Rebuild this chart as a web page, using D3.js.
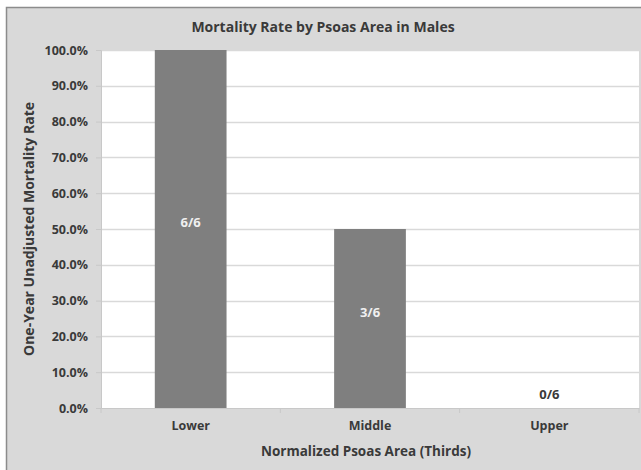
<!DOCTYPE html>
<html>
<head>
<meta charset="utf-8">
<script src="https://cdn.jsdelivr.net/npm/d3@7"></script>
<style>
  body { margin: 0; background: #fff; }
  text { font-family: "Open Sans", "Liberation Sans", sans-serif; font-weight: bold; fill: #3a3a3a; }
</style>
</head>
<body>
<main></main>
<script>
const WIDTH = 641;
const HEIGHT = 470;

const categories = ["Lower", "Middle", "Upper"];
const rates = [1.0, 0.5, 0.0];
const barLabels = ["6/6", "3/6", "0/6"];
const yTicks = [0, 0.1, 0.2, 0.3, 0.4, 0.5, 0.6, 0.7, 0.8, 0.9, 1.0];

const titleText = "Mortality Rate by Psoas Area in Males";
const xTitle = "Normalized Psoas Area (Thirds)";
const yTitle = "One-Year Unadjusted Mortality Rate";

function drawChart () {
    var svg = d3.select("main").append("svg")
                .attr("width", WIDTH)
                .attr("height", HEIGHT);

    // chart frame (gray background, runs off right and bottom)
    svg.append("rect")
       .attr("x", 6.5).attr("y", 7.5)
       .attr("width", WIDTH).attr("height", HEIGHT)
       .style("fill", "#d9d9d9")
       .style("stroke", "#8c8c8c")
       .style("stroke-width", 1.5);

    var left = 101, right = 639, top = 50, bottom = 408;

    var x = d3.scaleBand().domain(categories).range([left, right]).paddingInner(0.6).paddingOuter(0.3);
    var y = d3.scaleLinear().domain([0, 1]).range([bottom, top]);

    // plot area
    svg.append("rect")
       .attr("x", left).attr("y", top)
       .attr("width", right - left).attr("height", bottom - top)
       .style("fill", "white");

    // gridlines
    svg.append("g")
       .selectAll("line")
       .data(yTicks.slice(1))
       .join("line")
       .attr("x1", left).attr("x2", right)
       .attr("y1", d => Math.round(y(d)) + 0.5)
       .attr("y2", d => Math.round(y(d)) + 0.5)
       .style("stroke", "#d9d9d9")
       .style("stroke-width", 1.5);

    // y axis
    var yAxis = svg.append("g")
                   .attr("transform", "translate(" + left + ",0)")
                   .call(d3.axisLeft(y).tickValues(yTicks).tickFormat(d3.format(".1%")).tickSize(5).tickPadding(8));
    yAxis.select(".domain").style("stroke", "#c8c8c8");
    yAxis.selectAll(".tick line").style("stroke", "#c8c8c8");
    yAxis.selectAll("text").style("font-size", "12.5px").style("fill", "#3a3a3a");

    // bars
    svg.append("g")
       .selectAll("rect")
       .data(rates)
       .join("rect")
       .attr("x", (d, i) => x(categories[i]))
       .attr("width", x.bandwidth())
       .attr("y", d => y(d))
       .attr("height", d => y(0) - y(d))
       .style("fill", "#7f7f7f");

    // x axis
    var xAxis = svg.append("g")
                   .attr("transform", "translate(0," + bottom + ")")
                   .call(d3.axisBottom(x).tickSize(0).tickPadding(13));
    xAxis.select(".domain").style("stroke", "#c8c8c8");
    xAxis.selectAll("text").style("font-size", "12.5px").style("fill", "#3a3a3a");

    // category separator ticks
    svg.append("g")
       .selectAll("line")
       .data(d3.range(categories.length + 1))
       .join("line")
       .attr("x1", i => left + i * (right - left) / categories.length)
       .attr("x2", i => left + i * (right - left) / categories.length)
       .attr("y1", bottom).attr("y2", bottom + 5)
       .style("stroke", "#c8c8c8");

    // bar labels
    svg.append("g")
       .selectAll("text")
       .data(rates)
       .join("text")
       .attr("x", (d, i) => x(categories[i]) + x.bandwidth() / 2)
       .attr("y", d => d > 0 ? (y(d) + y(0)) / 2 - 2 : y(0) - 9)
       .attr("text-anchor", "middle")
       .style("font-size", "13px")
       .style("fill", (d) => d > 0 ? "#f0f0f0" : "#3a3a3a")
       .text((d, i) => barLabels[i]);

    // titles
    svg.append("text")
       .attr("x", 323).attr("y", 32)
       .attr("text-anchor", "middle")
       .style("font-size", "14px")
       .text(titleText);

    svg.append("text")
       .attr("x", 366).attr("y", 456)
       .attr("text-anchor", "middle")
       .style("font-size", "13.5px")
       .text(xTitle);

    svg.append("text")
       .attr("transform", "translate(34,229) rotate(-90)")
       .attr("text-anchor", "middle")
       .style("font-size", "14px")
       .text(yTitle);
}

drawChart();
</script>
</body>
</html>
